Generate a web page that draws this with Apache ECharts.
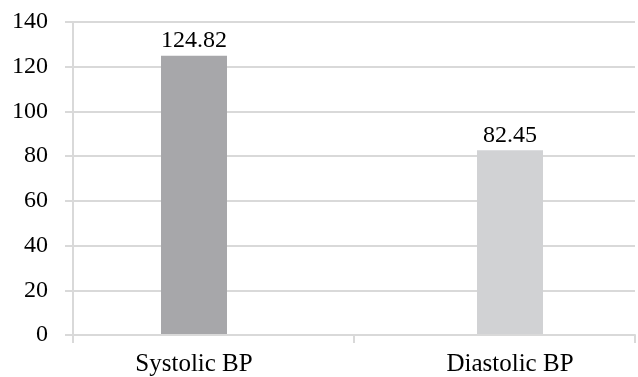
<!DOCTYPE html>
<html><head><meta charset="utf-8">
<script src="https://cdn.jsdelivr.net/npm/echarts@6/dist/echarts.min.js"></script>
<style>html,body{margin:0;padding:0;background:#fff}#c{width:638px;height:377px}</style>
</head><body><div id="c"></div>
<script>
const categories = ['Systolic BP', 'Diastolic BP'];
const values = [124.82, 82.45];
const barColors = ['#A7A7AA', '#D1D2D4'];
const yMin = 0, yMax = 140, yStep = 20;

const font = "'Liberation Serif', 'Times New Roman', serif";
const gridColor = '#D9D9D9';
const chart = echarts.init(document.getElementById('c'));
chart.setOption({
  animation: false,
  grid: [
    {left: 73, right: 3, top: 22, bottom: 42},
    {left: 194, right: 128, top: 22, bottom: 42}
  ],
  xAxis: [
    {gridIndex: 0, type: 'category', data: categories, boundaryGap: true,
     axisLine: {show: true, lineStyle: {color: gridColor, width: 2}},
     axisTick: {show: true, interval: 0, length: 8, lineStyle: {color: gridColor, width: 2}},
     axisLabel: {show: false}},
    {gridIndex: 1, type: 'category', data: categories, boundaryGap: false,
     axisLine: {show: false}, axisTick: {show: false},
     axisLabel: {show: true, interval: 0, margin: 18, color: '#000', fontFamily: font, fontSize: 25}}
  ],
  yAxis: [
    {gridIndex: 0, type: 'value', min: yMin, max: yMax, interval: yStep,
     axisLine: {show: true, lineStyle: {color: gridColor, width: 2}},
     axisTick: {show: true, length: 8, lineStyle: {color: gridColor, width: 2}},
     splitLine: {show: true, lineStyle: {color: gridColor, width: 2}},
     axisLabel: {margin: 25, color: '#000', fontFamily: font, fontSize: 24}},
    {gridIndex: 1, type: 'value', min: yMin, max: yMax, show: false, splitLine: {show: false}}
  ],
  series: [{
    type: 'bar', xAxisIndex: 1, yAxisIndex: 1,
    barWidth: 66,
    data: values.map((v, i) => ({value: v, itemStyle: {color: barColors[i]}})),
    label: {show: true, position: 'top', distance: 3, color: '#000', fontFamily: font, fontSize: 24,
            formatter: p => p.value.toFixed(2)}
  }]
});
</script></body></html>
